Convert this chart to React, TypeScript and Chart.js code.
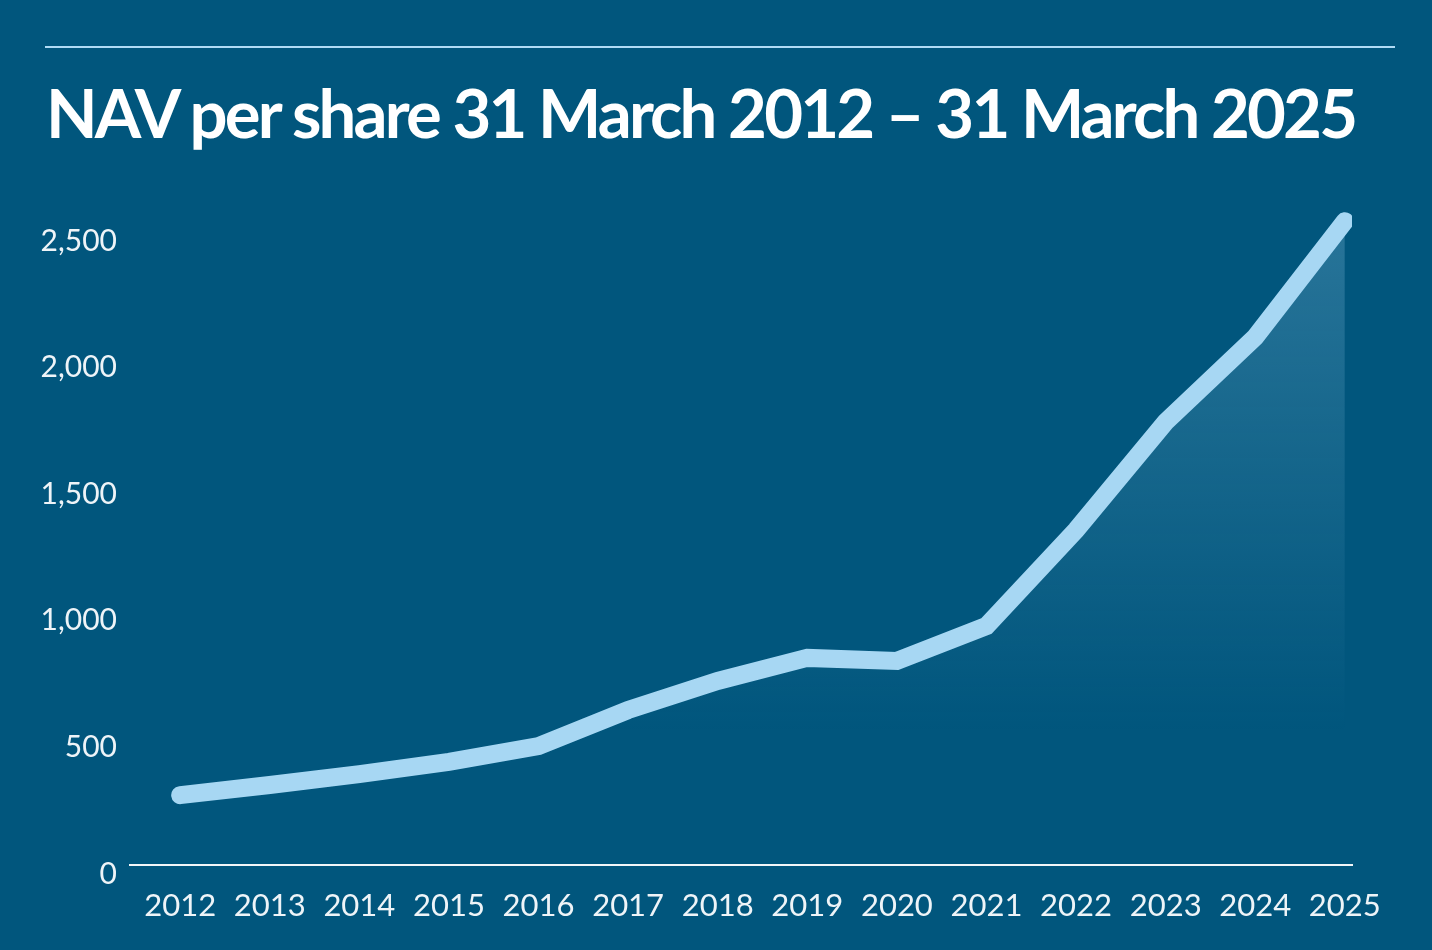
import React, { useEffect, useRef } from "react";
import { Chart, registerables } from "chart.js";

Chart.register(...registerables);

const TITLE = "NAV per share 31 March 2012 – 31 March 2025";
const years = [2012, 2013, 2014, 2015, 2016, 2017, 2018, 2019, 2020, 2021, 2022, 2023, 2024, 2025];
const navPerShare = [276, 316, 359, 407, 470, 612, 727, 818, 806, 944, 1323, 1750, 2085, 2543];
const yTickValues = [0, 500, 1000, 1500, 2000, 2500];

const BG = "#01567D";
const LINE = "#A7D7F3";
const TEXT = "#EEF4F8";

export default function App() {
  const canvasRef = useRef<HTMLCanvasElement | null>(null);

  useEffect(() => {
    document.body.style.margin = "0";
    const canvas = canvasRef.current;
    if (!canvas) return;
    const chart = new Chart(canvas, {
      type: "line",
      data: {
        datasets: [
          {
            data: years.map((y, i) => ({ x: y, y: navPerShare[i] })),
            borderColor: LINE,
            borderWidth: 18,
            borderCapStyle: "round",
            borderJoinStyle: "miter",
            pointRadius: 0,
            tension: 0,
            fill: "origin",
            backgroundColor: (ctx: any) => {
              const ch = ctx.chart;
              const area = ch.chartArea;
              if (!area) return "rgba(0,0,0,0)";
              const ys = ch.scales.y;
              const top = ys.getPixelForValue(2560);
              const bottom = ys.getPixelForValue(520);
              const g = ch.ctx.createLinearGradient(0, top, 0, bottom);
              g.addColorStop(0, "rgba(167,215,243,0.24)");
              g.addColorStop(1, "rgba(167,215,243,0)");
              return g;
            },
          },
        ],
      },
      options: {
        animation: false,
        responsive: false,
        layout: { padding: { left: 0, right: 80, top: 31.4, bottom: 0 } },
        plugins: { legend: { display: false }, tooltip: { enabled: false }, title: { display: false } },
        scales: {
          x: {
            type: "linear",
            min: 2011.44,
            max: 2025.08,
            grid: { display: false, drawTicks: false },
            border: { display: true, color: "#F2F6F9", width: 2 },
            afterBuildTicks: (axis: any) => {
              axis.ticks = years.map((v) => ({ value: v }));
            },
            afterFit: (axis: any) => {
              axis.height = 85;
            },
            ticks: {
              color: TEXT,
              font: { family: "Lato", size: 31 },
              padding: 22,
              maxRotation: 0,
              autoSkip: false,
              callback: (v: any) => String(v),
            },
          },
          y: {
            min: 0,
            max: 2700,
            grid: { display: false, drawTicks: false },
            border: { display: false },
            afterBuildTicks: (axis: any) => {
              axis.ticks = yTickValues.map((v) => ({ value: v }));
            },
            afterFit: (axis: any) => {
              axis.width = 130;
            },
            ticks: {
              color: TEXT,
              font: { family: "Lato", size: 30 },
              padding: 13,
              labelOffset: 9,
              callback: (v: any) => Number(v).toLocaleString("en-US"),
            },
          },
        },
      },
    });
    return () => chart.destroy();
  }, []);

  return (
    <div
      style={{
        position: "absolute",
        left: 0,
        top: 0,
        width: 1432,
        height: 950,
        background: BG,
        overflow: "hidden",
      }}
    >
      <div
        style={{
          position: "absolute",
          left: 45,
          top: 46,
          width: 1350,
          height: 2,
          background: "#B0DBF5",
        }}
      />
      <div
        style={{
          position: "absolute",
          left: 46,
          top: 79,
          fontFamily: "Lato",
          fontWeight: 700,
          fontSize: 67,
          lineHeight: 1,
          letterSpacing: "-2.8px",
          color: "#FFFFFF",
          whiteSpace: "nowrap",
        }}
      >
        {TITLE}
      </div>
      <canvas
        ref={canvasRef}
        width={1432}
        height={800}
        style={{ position: "absolute", left: 0, top: 150, width: 1432, height: 800 }}
      />
    </div>
  );
}
